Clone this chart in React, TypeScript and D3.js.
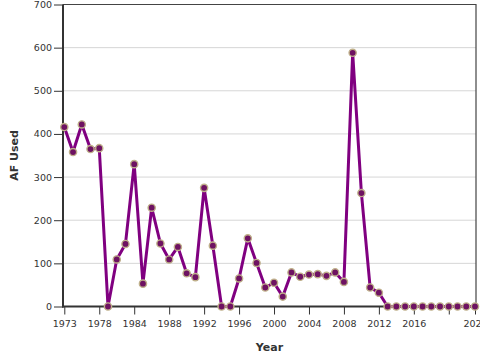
import React, { useEffect, useRef } from 'react'
import * as d3 from 'd3'

// water years on record (some early years missing)
const years = [
  1973, 1974, 1975, 1976, 1978, 1979, 1981, 1982, 1984, 1985, 1986, 1987,
  1988, 1989, 1990, 1991, 1992, 1993, 1994, 1995, 1996, 1997, 1998, 1999,
  2000, 2001, 2002, 2003, 2004, 2005, 2006, 2007, 2008, 2009, 2010, 2011,
  2012, 2013, 2014, 2015, 2016, 2017, 2018, 2019, 2020, 2021, 2022, 2023,
]

const afUsed = [
  416, 358, 422, 365, 367, 0, 109, 145, 330, 53, 229, 146,
  109, 138, 77, 68, 275, 141, 0, 0, 65, 158, 101, 44,
  55, 23, 79, 69, 74, 75, 71, 79, 57, 588, 263, 44,
  32, 0, 0, 0, 0, 0, 0, 0, 0, 0, 0, 0,
]

const xTickYears = [1973, 1978, 1984, 1988, 1992, 1996, 2000, 2004, 2008, 2012, 2016, 2020, 2023]
const xHiddenLabels = [2020]
const yTicks = [0, 100, 200, 300, 400, 500, 600, 700]

export default function App() {
  const svgRef = useRef<SVGSVGElement>(null)
  const width = 480
  const height = 360

  useEffect(() => {
    if (!svgRef.current) return
    const svg = d3.select(svgRef.current)
    svg.selectAll('*').remove()

    const left = 63
    const right = 476
    const top = 4.5
    const bottom = 306.5
    const font = 'DejaVu Sans, Verdana, sans-serif'

    const x = d3.scalePoint<number>()
      .domain(years)
      .range([64.3, 475])

    const y = d3.scaleLinear()
      .domain([0, 700])
      .range([bottom, top])

    // grid
    svg.append('g')
      .selectAll('line')
      .data(yTicks.filter(d => d > 0 && d < 700))
      .enter()
      .append('line')
      .attr('x1', left)
      .attr('x2', right)
      .attr('y1', d => y(d))
      .attr('y2', d => y(d))
      .attr('stroke', '#d6d6d6')
      .attr('stroke-width', 1)

    // top + right frame
    svg.append('path')
      .attr('d', `M${left},${top}H${right}V${bottom}`)
      .attr('fill', 'none')
      .attr('stroke', '#444')
      .attr('stroke-width', 1.2)

    // y axis
    const yAxis = svg.append('g')
      .attr('transform', `translate(${left},0)`)
      .call(d3.axisLeft(y).tickValues(yTicks).tickSize(9).tickPadding(2))
    yAxis.select('.domain').remove()
    yAxis.selectAll('.tick line').attr('stroke', '#333').attr('stroke-width', 1)
    yAxis.selectAll('.tick text')
      .attr('font-family', font)
      .attr('font-size', 9.5)
      .attr('fill', '#333')

    // x axis
    const xAxis = svg.append('g')
      .attr('transform', `translate(0,${bottom})`)
      .call(d3.axisBottom(x)
        .tickValues(xTickYears)
        .tickSize(8)
        .tickPadding(6)
        .tickFormat(d => (xHiddenLabels.includes(d as number) ? '' : String(d))))
    xAxis.select('.domain').remove()
    xAxis.selectAll('.tick line').attr('stroke', '#333').attr('stroke-width', 1)
    xAxis.selectAll('.tick text')
      .attr('font-family', font)
      .attr('font-size', 9.5)
      .attr('fill', '#333')

    // axis lines
    svg.append('line')
      .attr('x1', left).attr('x2', left)
      .attr('y1', top).attr('y2', bottom + 1)
      .attr('stroke', '#333')
      .attr('stroke-width', 2)
    svg.append('line')
      .attr('x1', left - 1).attr('x2', right)
      .attr('y1', bottom).attr('y2', bottom)
      .attr('stroke', '#333')
      .attr('stroke-width', 2)

    // series
    const pts = years.map((yr, i) => ({ yr, v: afUsed[i] }))
    const line = d3.line<{ yr: number; v: number }>()
      .x(d => x(d.yr) as number)
      .y(d => y(d.v))

    svg.append('path')
      .datum(pts)
      .attr('d', line)
      .attr('fill', 'none')
      .attr('stroke', '#800080')
      .attr('stroke-width', 3)
      .attr('stroke-linejoin', 'round')

    svg.append('g')
      .selectAll('circle')
      .data(pts)
      .enter()
      .append('circle')
      .attr('cx', d => x(d.yr) as number)
      .attr('cy', d => y(d.v))
      .attr('r', 3.6)
      .attr('fill', '#6e1262')
      .attr('stroke', '#bfb08a')
      .attr('stroke-width', 1.4)

    // titles
    svg.append('text')
      .attr('x', (left + right) / 2)
      .attr('y', 351)
      .attr('text-anchor', 'middle')
      .attr('font-family', font)
      .attr('font-weight', 'bold')
      .attr('font-size', 11)
      .attr('fill', '#333')
      .text('Year')

    svg.append('text')
      .attr('transform', `translate(18,${(top + bottom) / 2}) rotate(-90)`)
      .attr('text-anchor', 'middle')
      .attr('font-family', font)
      .attr('font-weight', 'bold')
      .attr('font-size', 11)
      .attr('fill', '#333')
      .text('AF Used')
  }, [])

  return (
    <div style={{ position: 'absolute', left: 0, top: 0 }}>
      <svg ref={svgRef} width={width} height={height} style={{ display: 'block', background: '#fff' }} />
    </div>
  )
}
